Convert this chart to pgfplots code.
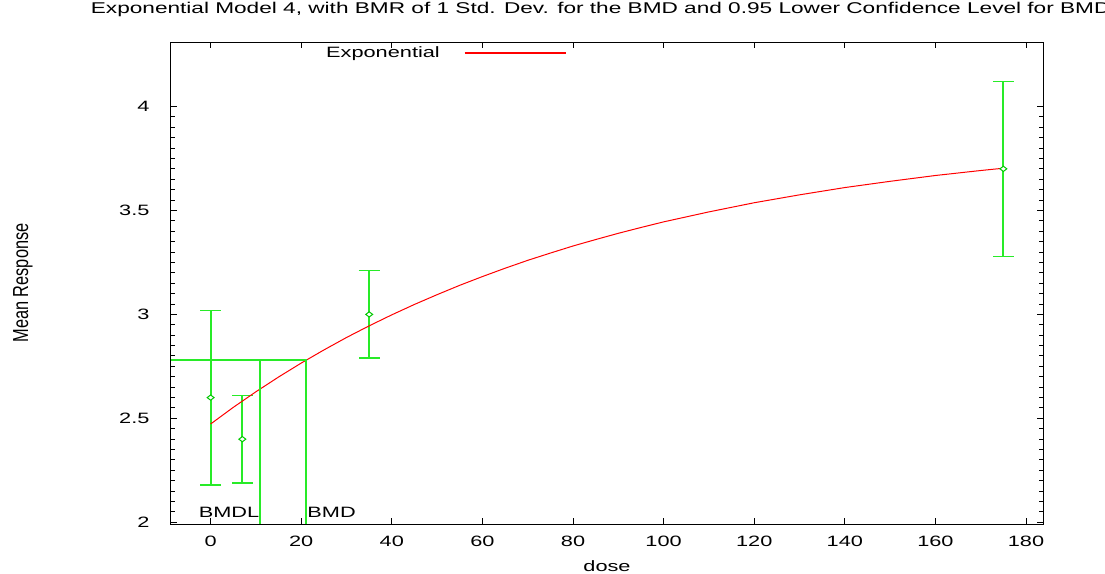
\documentclass[border=0pt]{standalone}
\usepackage{fontspec}
\setmainfont{Liberation Sans}[FakeStretch=1.45]
\newfontfamily\plainfont{Liberation Sans}
\usepackage{pgfplots}
\pgfplotsset{compat=1.18}
\usetikzlibrary{calc}
\definecolor{bargreen}{RGB}{40,235,40}
\definecolor{markgreen}{RGB}{0,200,0}
\definecolor{fitred}{RGB}{255,0,0}

\begin{document}
\begin{tikzpicture}
\begin{axis}[
    name=ax,
    scale only axis,
    width=654pt, height=361.5pt,
    xmin=-8.75, xmax=183.75,
    ymin=1.992, ymax=4.31,
    xtick={0,20,...,180},
    ytick={2,2.5,...,4},
    minor y tick num=9,
    tick align=inside,
    major tick length=4.5pt,
    minor tick length=3pt,
    tick style={black, line width=0.75pt},
    axis line style={line width=0.75pt},
    font=\fontsize{11.25pt}{13pt}\selectfont,
    /pgf/number format/assume math mode=true,
    xticklabel style={yshift=-5.5pt},
    yticklabel style={anchor=east, inner xsep=0pt, xshift=-16pt},
    title={Exponential Model 4, with BMR of 1 Std. Dev. for the BMD and 0.95 Lower Confidence Level for BMDL},
    title style={font=\fontsize{11.7pt}{13pt}\selectfont, at={(rel axis cs:0.5,1)}, anchor=base, yshift=15.75pt},
    xlabel={dose},
    xlabel style={at={(rel axis cs:0.5,0)}, anchor=base, yshift=-35.25pt},
    ylabel={\scalebox{1.45}[1.09]{\rotatebox{90}{\plainfont Mean Response}}},
    ylabel style={at={(rel axis cs:0,0.5)}, anchor=center, rotate=-90, xshift=-111pt},
    legend plot pos=right,
    legend image code/.code={\draw[#1, line width=1pt] (0pt,0pt) -- (76pt,0pt);},
    legend style={fill=none, draw=none, at={(rel axis cs:0.17,0.977)}, anchor=west,
        column sep=16pt},
]

% observed means with error bars
\addplot[forget plot, only marks, mark=diamond*,
    mark size=2.6pt,
    mark options={draw=markgreen, fill=white, line width=0.75pt, rotate=90},
    error bars/.cd, y dir=both, y explicit,
    error bar style={bargreen, line width=1.5pt},
    error mark options={rotate=90, mark size=7.9pt, bargreen, line width=1pt}]
  table[x=dose, y=mean, y error=err] {
dose mean err
0    2.60 0.42
7    2.40 0.21
35   3.00 0.21
175  3.70 0.42
};

% fitted exponential model
\addplot[color=fitred, line width=0.75pt, no markers] coordinates {
    (0,2.473) (5,2.553) (10,2.628) (15,2.699) (20,2.766) (25,2.829)
    (30,2.889) (35,2.945) (40,2.998) (45,3.048) (50,3.095) (55,3.140)
    (60,3.182) (65,3.222) (70,3.260) (75,3.295) (80,3.329) (85,3.360)
    (90,3.390) (95,3.418) (100,3.445) (110,3.493) (120,3.537) (130,3.575)
    (140,3.610) (150,3.640) (160,3.668) (170,3.692) (175,3.703)
};
\addlegendentry{Exponential}

% BMD and BMDL lines
\addplot[forget plot, bargreen, line width=1.5pt] coordinates {
    (-8.75,2.78) (21.1,2.78) (21.1,1.992)
};
\addplot[forget plot, bargreen, line width=1.5pt] coordinates {
    (11.0,2.78) (11.0,1.992)
};

\node[anchor=base east, inner sep=0pt, yshift=5.25pt] at (axis cs:10.8,1.992) {BMDL};
\node[anchor=base west, inner sep=0pt, yshift=5.25pt] at (axis cs:21.3,1.992) {BMD};
\end{axis}
\pgfresetboundingbox
\path[use as bounding box] ($(ax.south west)+(-128.25pt,-36.75pt)$) rectangle ($(ax.north east)+(46.5pt,31.5pt)$);
\end{tikzpicture}
\end{document}
